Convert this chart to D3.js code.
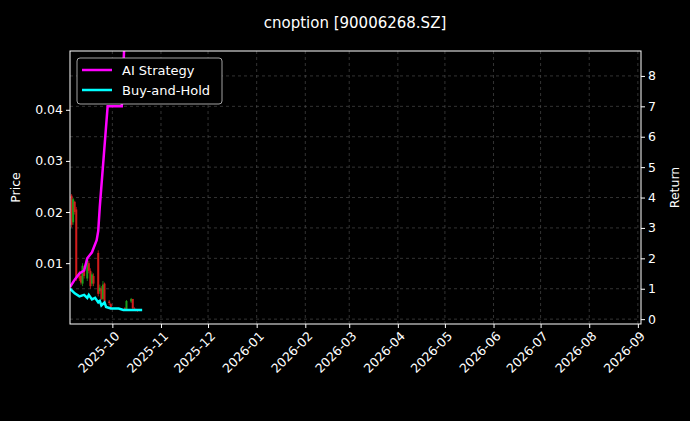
<!DOCTYPE html>
<html><head><meta charset="UTF-8">
<script src="https://d3js.org/d3.v7.min.js"></script>
<style>body{margin:0;background:#000}text{font-family:"DejaVu Sans",sans-serif}</style>
</head><body><svg id="svg1"></svg>
<script>
const candleDates = ["2025-09-05","2025-09-06","2025-09-07","2025-09-08","2025-09-10","2025-09-11","2025-09-12","2025-09-13","2025-09-15","2025-09-16","2025-09-17","2025-09-18","2025-09-19","2025-09-22","2025-09-23","2025-09-24","2025-09-25","2025-09-26","2025-09-29","2025-09-30","2025-10-09","2025-10-10","2025-10-13","2025-10-14","2025-10-15","2025-10-16","2025-10-17"];
const candleOpen  = [0.0232,0.0180,0.0220,0.0205,0.0080,0.0075,0.0060,0.0090,0.0070,0.0100,0.0085,0.0060,0.0075,0.0120,0.0045,0.0050,0.0030,0.0060,0.0025,0.0020,0.0012,0.0010,0.0025,0.0030,0.0012,0.0010,0.0008];
const candleClose = [0.0175,0.0225,0.0200,0.0070,0.0070,0.0062,0.0095,0.0075,0.0105,0.0085,0.0055,0.0078,0.0060,0.0040,0.0052,0.0030,0.0058,0.0025,0.0022,0.0013,0.0010,0.0026,0.0030,0.0012,0.0011,0.0008,0.0007];
const candleHigh  = [0.0235,0.0228,0.0222,0.0210,0.0085,0.0080,0.0100,0.0095,0.0110,0.0105,0.0090,0.0082,0.0080,0.0125,0.0058,0.0055,0.0065,0.0062,0.0028,0.0022,0.0014,0.0028,0.0032,0.0030,0.0014,0.0011,0.0009];
const candleLow   = [0.0170,0.0175,0.0195,0.0065,0.0065,0.0058,0.0055,0.0070,0.0065,0.0080,0.0050,0.0055,0.0055,0.0035,0.0040,0.0028,0.0028,0.0022,0.0018,0.0010,0.0008,0.0009,0.0022,0.0010,0.0008,0.0006,0.0005];

const stratDates = ["2025-09-04","2025-09-07","2025-09-10","2025-09-13","2025-09-15","2025-09-18","2025-09-21","2025-09-22","2025-09-23","2025-09-28","2025-10-07","2025-10-09"];
const stratValues = [1.05,1.3,1.5,1.6,2.0,2.2,2.6,2.9,3.7,7.0,7.0,9.5];
const bhDates = ["2025-09-04","2025-09-07","2025-09-10","2025-09-13","2025-09-15","2025-09-16","2025-09-18","2025-09-20","2025-09-22","2025-09-23","2025-09-24","2025-09-26","2025-09-27","2025-09-30","2025-10-05","2025-10-08","2025-10-20"];
const bhValues = [1.0,0.85,0.75,0.8,0.7,0.8,0.65,0.7,0.55,0.6,0.45,0.55,0.4,0.35,0.35,0.3,0.3];

const leftTicks = [0.01,0.02,0.03,0.04];
const rightTicks = [0,1,2,3,4,5,6,7,8];

const W = 690, H = 421;
const m = {left:70, right:641, top:51, bottom:324};
const parse = d3.timeParse("%Y-%m-%d");
const svg = d3.select("#svg1").attr("width", W).attr("height", H);

const x = d3.scaleTime().domain([parse("2025-09-04"), parse("2026-09-03")]).range([m.left, m.right]);
const yL = d3.scaleLinear().domain([-0.0019, 0.0515]).range([m.bottom, m.top]);
const yR = d3.scaleLinear().domain([-0.16, 8.82]).range([m.bottom, m.top]);

svg.append("defs").append("clipPath").attr("id","clip")
  .append("rect").attr("x",m.left).attr("y",m.top).attr("width",m.right-m.left).attr("height",m.bottom-m.top);

// grid
const months = x.ticks(d3.timeMonth.every(1));
const grid = svg.append("g").attr("stroke","#555").attr("stroke-width",0.6).attr("stroke-dasharray","3,3");
months.forEach(t => grid.append("line").attr("x1",x(t)).attr("x2",x(t)).attr("y1",m.top).attr("y2",m.bottom));
rightTicks.forEach(t => grid.append("line").attr("x1",m.left).attr("x2",m.right).attr("y1",yR(t)).attr("y2",yR(t)));

// candles
const cg = svg.append("g").attr("clip-path","url(#clip)");
candleDates.forEach((d,i) => {
  const col = candleClose[i] >= candleOpen[i] ? "#1a9e1a" : "#d01c1c";
  const cx = x(parse(d));
  cg.append("line").attr("x1",cx).attr("x2",cx).attr("y1",yL(candleHigh[i])).attr("y2",yL(candleLow[i])).attr("stroke",col).attr("stroke-width",0.8);
  const y0 = yL(Math.max(candleOpen[i],candleClose[i])), y1 = yL(Math.min(candleOpen[i],candleClose[i]));
  cg.append("rect").attr("x",cx-1).attr("width",2).attr("y",y0).attr("height",Math.max(0.5,y1-y0)).attr("fill",col);
});

const line = d3.line().x(d => x(parse(d[0]))).y(d => yR(d[1]));
cg.append("path").datum(stratDates.map((d,i)=>[d,stratValues[i]])).attr("d",line)
  .attr("fill","none").attr("stroke","#ff00ff").attr("stroke-width",2.5);
cg.append("path").datum(bhDates.map((d,i)=>[d,bhValues[i]])).attr("d",line)
  .attr("fill","none").attr("stroke","#00ffff").attr("stroke-width",2.5);

// frame
svg.append("rect").attr("x",m.left).attr("y",m.top).attr("width",m.right-m.left).attr("height",m.bottom-m.top)
  .attr("fill","none").attr("stroke","#fff").attr("stroke-width",1);

// axes
const styleAxis = g => {
  g.select(".domain").remove();
  g.selectAll("line").attr("stroke","#fff");
  g.selectAll("text").attr("fill","#fff").attr("font-size",12.5).attr("font-family","DejaVu Sans");
};
svg.append("g").attr("transform",`translate(0,${m.bottom})`)
  .call(d3.axisBottom(x).tickValues(months).tickFormat(d3.timeFormat("%Y-%m")).tickSizeOuter(0).tickSize(4))
  .call(styleAxis)
  .selectAll("text").attr("text-anchor","end").attr("transform","rotate(-45)").attr("dx","-0.3em").attr("dy","0.6em");
svg.append("g").attr("transform",`translate(${m.left},0)`)
  .call(d3.axisLeft(yL).tickValues(leftTicks).tickFormat(d3.format(".2f")).tickSize(4)).call(styleAxis);
svg.append("g").attr("transform",`translate(${m.right},0)`)
  .call(d3.axisRight(yR).tickValues(rightTicks).tickSize(4)).call(styleAxis);

svg.append("text").attr("x",355).attr("y",28).attr("text-anchor","middle").attr("fill","#fff").attr("font-size",15).text("cnoption [90006268.SZ]");
svg.append("text").attr("transform",`translate(20,${(m.top+m.bottom)/2}) rotate(-90)`).attr("text-anchor","middle").attr("fill","#fff").attr("font-size",12.5).text("Price");
svg.append("text").attr("transform",`translate(679,${(m.top+m.bottom)/2}) rotate(-90)`).attr("text-anchor","middle").attr("fill","#fff").attr("font-size",12.5).text("Return");

// legend
const lg = svg.append("g").attr("transform","translate(77,58)");
lg.append("rect").attr("width",145).attr("height",46).attr("rx",3).attr("fill","#000").attr("stroke","#ccc").attr("stroke-width",0.8);
[["AI Strategy","#ff00ff"],["Buy-and-Hold","#00ffff"]].forEach((s,i)=>{
  lg.append("line").attr("x1",5).attr("x2",35).attr("y1",12+i*20).attr("y2",12+i*20).attr("stroke",s[1]).attr("stroke-width",2.5);
  lg.append("text").attr("x",45).attr("y",17+i*20).attr("fill","#fff").attr("font-size",13).text(s[0]);
});
</script></body></html>
